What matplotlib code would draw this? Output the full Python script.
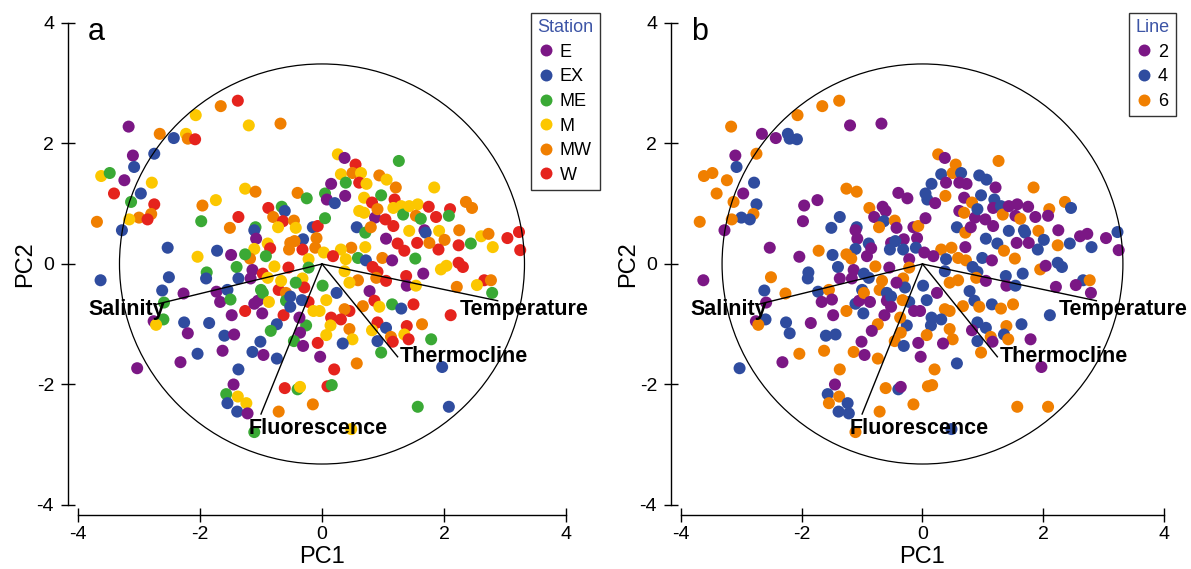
import matplotlib
matplotlib.use("Agg")
import numpy as np
import pandas as pd
import matplotlib.pyplot as plt
from matplotlib.lines import Line2D
from matplotlib.patches import Circle

###############################################################################
# Data (PC scores, station and line of every sample)

pc1 = [
    -3.17, -2.66, -2.43, -2.23, -2.20, -2.08, -2.07, -1.66, -1.38, -1.20,
    -0.68, -3.10, -3.08, -2.75, -3.62, -3.48, -3.24, -2.79, -3.41, -2.97,
    -3.13, -2.75, -2.80, -3.00, -2.86, -3.16, -3.69, -3.28, -2.53, -3.63,
    -2.51, -2.62, -2.59, -2.76, -2.60, -2.72, -3.03,
    -1.26, -1.09, -1.96, -1.74, -1.98, -1.37, -1.51, -0.40, -0.25, -0.88,
    -0.66, -0.61, -0.80, -0.64, -0.46, -0.72, -0.43, -1.09, -1.11, -1.08,
    -0.31, -0.32, -0.52, -0.45, -0.54, -0.89, -0.85, -0.15, -0.07, -0.09,
    -0.11, 0.05, 0.15, 0.08, 0.05, -0.22, 0.03, -1.11, -1.18, -1.26,
    -0.92, -0.78, -2.04, -1.72, -1.49, -1.40, -1.89, -1.90, -1.37, -1.14,
    -1.17, -0.97, -0.89, -0.55, -0.22, -2.27, -1.73, -1.67, -1.55, -1.50,
    -1.48, -1.26, -0.98, -1.11, -1.05, -1.00, -0.97, -0.87, -0.71, -0.59,
    -0.63, -0.59, -0.52, -0.52, -0.67, -0.32, -0.29, -0.22, -0.43, 0.01,
    -0.33, -0.14, -0.04, 0.07, 0.15, 0.14, -0.26, -0.37, -0.36, -0.46,
    -0.31, -0.07, 0.07, -0.03, -0.74, -0.84, -2.26, -2.20, -1.85, -1.60,
    -1.44, -1.63, -2.04, -2.32, -1.01, -1.14, -0.96, -0.74, -1.37, -1.45,
    -1.57, -1.55, -1.38, -1.24, -1.39, -1.22, -0.61, -0.40, -0.36, 0.09,
    0.16, -0.15, -0.71, 0.20,
    0.26, 0.37, 0.55, 1.26, 0.31, 0.50, 0.64, 0.61, 0.73, 0.94,
    1.06, 1.21, 0.97, 1.84, 0.39, 0.38, 0.21, 0.69, 0.82, 0.61,
    0.69, 0.87, 0.91, 1.04, 1.19, 1.17, 1.30, 1.33, 1.43, 1.57,
    1.75, 1.54, 1.62, 1.87, 2.10, 2.08, 2.36, 2.46, 0.57, 0.71,
    0.80, 1.17, 1.43, 1.68, 1.70, 1.92, 2.01, 2.25, 2.61, 2.73,
    2.44, 2.80, 2.24, 1.91, 1.76, 1.56, 1.05, 0.71, 0.48, 0.31,
    1.24, 1.35, 1.53, 0.18, 0.39, 0.59, 0.72, 0.99, 1.15, 0.83,
    0.91, 0.89, 1.66, 1.95, 2.04, 2.24, 2.31, 2.66, 2.77, 2.54,
    2.21, 2.79, 1.38, 1.39, 1.54, 1.05, 0.78, 0.59, 0.37, 0.45,
    0.86, 0.94, 0.67, 0.45, 1.15, 1.30, 1.50, 2.11, 0.24, 0.37,
    0.31, 0.45, 0.50, 0.34, 0.91, 1.05, 0.82, 0.91, 1.13, 1.16,
    1.39, 1.35, 1.64, 1.42, 1.79, 0.97, 0.57, 1.97, 1.57, 2.08,
    3.04, 3.23, 3.25, -1.11, 0.48,
]

pc2 = [
    2.28, 2.16, 2.09, 2.16, 2.08, 2.07, 2.47, 2.62, 2.71, 2.30,
    2.33, 1.80, 1.61, 1.83, 1.46, 1.51, 1.39, 1.35, 1.17, 1.17,
    1.03, 0.99, 0.83, 0.77, 0.74, 0.74, 0.70, 0.56, 0.27, -0.27,
    -0.22, -0.44, -0.64, -0.95, -0.92, -1.01, -1.73,
    1.25, 1.20, 0.97, 1.06, 0.71, 0.78, 0.60, 1.18, 1.09, 0.93,
    0.95, 0.88, 0.78, 0.71, 0.72, 0.61, 0.60, 0.61, 0.56, 0.42,
    0.41, 0.24, 0.35, 0.38, 0.24, 0.34, 0.26, 0.61, 0.63, 0.43,
    0.27, 1.17, 1.33, 1.07, 0.76, 0.08, 0.19, 0.25, 0.09, 0.16,
    0.13, -0.04, 0.12, 0.22, 0.15, -0.05, -0.14, -0.24, -0.24, -0.10,
    -0.24, -0.16, -0.23, -0.06, -0.06, -0.49, -0.46, -0.63, -0.43, -0.59,
    -0.85, -0.78, -0.82, -0.66, -0.61, -0.43, -0.48, -0.63, -0.43, -0.48,
    -0.85, -0.61, -0.54, -0.71, -0.28, -0.24, -0.39, -0.63, -0.31, -0.36,
    -0.60, -0.78, -0.78, -0.60, -0.89, -1.02, -1.02, -0.89, -1.14, -1.28,
    -1.36, -1.31, -1.18, -1.54, -1.00, -1.11, -0.97, -1.15, -0.98, -1.19,
    -1.17, -1.44, -1.49, -1.63, -1.29, -1.46, -1.51, -1.57, -1.75, -2.00,
    -2.16, -2.31, -2.20, -2.31, -2.45, -2.48, -2.06, -2.08, -2.04, -2.03,
    -2.01, -2.33, -2.45, -1.75,
    1.82, 1.76, 1.65, 1.71, 1.49, 1.51, 1.51, 1.35, 1.33, 1.47,
    1.40, 1.27, 1.14, 1.27, 1.35, 1.13, 1.01, 1.10, 1.02, 0.88,
    0.85, 0.77, 0.91, 0.74, 1.07, 0.93, 0.96, 0.82, 0.96, 0.99,
    0.95, 0.80, 0.75, 0.78, 0.91, 0.80, 1.03, 0.93, 0.61, 0.52,
    0.61, 0.63, 0.55, 0.56, 0.52, 0.55, 0.40, 0.56, 0.46, 0.50,
    0.34, 0.28, 0.31, 0.24, 0.35, 0.35, 0.42, 0.28, 0.27, 0.24,
    0.34, 0.22, 0.09, 0.13, 0.08, 0.10, 0.06, 0.10, 0.06, -0.05,
    -0.13, -0.23, -0.16, -0.09, -0.03, 0.02, -0.05, -0.27, -0.27, -0.35,
    -0.38, -0.48, -0.20, -0.36, -0.36, -0.28, -0.45, -0.27, -0.12, -0.31,
    -0.61, -0.71, -0.70, -0.78, -0.67, -0.74, -0.67, -0.85, -0.48, -0.75,
    -0.92, -1.08, -1.25, -1.32, -0.97, -1.06, -1.10, -1.28, -1.21, -1.29,
    -1.03, -1.17, -1.00, -1.25, -1.25, -1.47, -1.65, -1.71, -2.37, -2.37,
    0.43, 0.53, 0.23, -2.79, -2.74,
]

station = [
    "E", "MW", "EX", "M", "MW", "W", "M", "MW", "W", "M",
    "MW", "E", "EX", "EX", "M", "ME", "E", "M", "W", "EX",
    "ME", "W", "MW", "MW", "W", "M", "MW", "EX", "EX", "EX",
    "EX", "EX", "ME", "E", "ME", "M", "E",
    "M", "MW", "MW", "M", "ME", "W", "MW", "MW", "ME", "W",
    "ME", "EX", "MW", "W", "MW", "M", "M", "ME", "EX", "E",
    "EX", "W", "MW", "MW", "MW", "M", "W", "EX", "W", "MW",
    "MW", "ME", "E", "E", "ME", "M", "M", "M", "MW", "ME",
    "ME", "M", "M", "EX", "E", "ME", "ME", "EX", "EX", "E",
    "E", "W", "M", "W", "ME", "E", "E", "E", "EX", "ME",
    "E", "W", "E", "E", "E", "ME", "ME", "M", "W", "MW",
    "W", "ME", "EX", "EX", "M", "M", "W", "W", "ME", "ME",
    "EX", "M", "M", "M", "W", "M", "ME", "E", "E", "ME",
    "E", "W", "M", "E", "EX", "ME", "EX", "E", "EX", "EX",
    "E", "E", "EX", "E", "EX", "EX", "E", "EX", "EX", "E",
    "ME", "EX", "M", "M", "EX", "E", "W", "ME", "M", "W",
    "ME", "MW", "MW", "W",
    "M", "E", "W", "ME", "M", "MW", "M", "W", "M", "MW",
    "M", "MW", "ME", "M", "ME", "E", "EX", "M", "W", "M",
    "M", "E", "MW", "W", "W", "M", "M", "ME", "M", "M",
    "W", "MW", "ME", "W", "W", "ME", "MW", "MW", "EX", "ME",
    "MW", "W", "M", "E", "EX", "M", "MW", "MW", "M", "MW",
    "ME", "M", "W", "W", "MW", "W", "E", "M", "MW", "M",
    "W", "W", "ME", "W", "M", "ME", "EX", "MW", "E", "W",
    "W", "MW", "E", "M", "M", "W", "W", "W", "MW", "M",
    "MW", "ME", "W", "E", "M", "W", "E", "MW", "M", "M",
    "W", "M", "MW", "W", "ME", "EX", "W", "W", "EX", "MW",
    "W", "MW", "M", "EX", "W", "EX", "M", "EX", "MW", "W",
    "W", "M", "MW", "W", "ME", "ME", "MW", "EX", "ME", "EX",
    "W", "W", "W", "ME", "M",
]

line = [
    6, 2, 2, 4, 4, 4, 6, 6, 6, 2,
    2, 2, 4, 6, 6, 6, 6, 4, 6, 2,
    6, 4, 6, 4, 4, 6, 6, 2, 2, 2,
    6, 4, 2, 2, 4, 6, 4,
    6, 6, 2, 2, 2, 4, 4, 2, 2, 6,
    2, 2, 2, 4, 6, 6, 2, 4, 2, 2,
    2, 4, 2, 4, 4, 4, 2, 2, 6, 2,
    4, 4, 4, 4, 2, 2, 2, 4, 6, 6,
    2, 6, 2, 6, 4, 4, 4, 4, 2, 2,
    2, 4, 4, 2, 6, 6, 4, 2, 6, 2,
    2, 6, 4, 4, 2, 4, 6, 2, 6, 4,
    2, 2, 4, 2, 6, 6, 4, 4, 2, 4,
    6, 2, 2, 4, 4, 4, 4, 6, 6, 6,
    4, 2, 6, 2, 6, 2, 4, 4, 2, 4,
    4, 6, 6, 2, 2, 6, 2, 6, 6, 2,
    4, 6, 6, 4, 4, 4, 6, 4, 2, 6,
    6, 6, 6, 6,
    6, 2, 6, 6, 4, 6, 4, 2, 2, 4,
    4, 2, 4, 6, 2, 6, 2, 2, 6, 2,
    6, 2, 4, 2, 4, 2, 4, 6, 2, 2,
    2, 2, 6, 2, 6, 2, 6, 4, 4, 6,
    2, 2, 4, 4, 4, 6, 4, 2, 2, 2,
    4, 4, 6, 4, 2, 2, 4, 2, 6, 6,
    4, 6, 6, 2, 4, 6, 6, 4, 2, 4,
    4, 6, 4, 6, 2, 4, 4, 4, 6, 2,
    2, 2, 4, 2, 4, 2, 4, 6, 4, 6,
    4, 6, 6, 6, 4, 6, 6, 4, 2, 6,
    4, 6, 6, 2, 4, 4, 2, 4, 6, 2,
    6, 4, 4, 6, 2, 6, 4, 2, 6, 6,
    2, 4, 2, 6, 4,
]

# Variable loadings (arrow tips) and the circle of equilibrium
loading_names = ["Salinity", "Temperature", "Thermocline", "Fluorescence"]
load_pc1 = [-2.72, 2.88, 1.24, -1.00]
load_pc2 = [-0.67, -0.61, -1.54, -2.49]
circle_radius = 3.32

station_order = ["E", "EX", "ME", "M", "MW", "W"]
line_order = [2, 4, 6]

###############################################################################
# Styling

plt.rcParams['font.family'] = ['Liberation Sans', 'DejaVu Sans']
plt.rcParams['axes.unicode_minus'] = False

purple, blue, green = '#7b1785', '#2f4c9f', '#3aa935'
yellow, orange, red = '#fcc700', '#f07f00', '#e5231d'
station_colors = dict(zip(station_order, [purple, blue, green, yellow, orange, red]))
line_colors = dict(zip(line_order, [purple, blue, orange]))

df = pd.DataFrame({"PC1": pc1, "PC2": pc2, "Station": station, "Line": line})

# label anchor (x, y, ha) for every loading name
label_layout = {
    "Salinity": (-2.57, -0.84, "right"),
    "Temperature": (2.26, -0.85, "left"),
    "Thermocline": (1.28, -1.63, "left"),
    "Fluorescence": (-1.21, -2.82, "left"),
}

fig = plt.figure(figsize=(11.91, 5.69), dpi=100)
ax_a = fig.add_axes([0.0655, 0.1125, 0.4097, 0.8471])
ax_b = fig.add_axes([0.5718, 0.1125, 0.4055, 0.8471])


def draw_panel(ax, colors, letter, legend_title, order, cmap):
    ax.scatter(df["PC1"], df["PC2"], c=colors, s=75, linewidths=0, zorder=2)
    ax.add_patch(Circle((0, 0), circle_radius, fill=False, lw=0.9,
                        ec='black', zorder=3))
    for name, lx, ly in zip(loading_names, load_pc1, load_pc2):
        ax.plot([0, lx], [0, ly], color='black', lw=1.0, zorder=3)
        tx, ty, ha = label_layout[name]
        ax.text(tx, ty, name, fontsize=15.5, fontweight='bold', ha=ha,
                va='baseline', zorder=4)

    ax.set_xlim(-4, 4)
    ax.set_ylim(-4, 4)
    ax.set_xticks([-4, -2, 0, 2, 4])
    ax.set_yticks([-4, -2, 0, 2, 4])
    for side in ['top', 'right']:
        ax.spines[side].set_visible(False)
    for side in ['left', 'bottom']:
        ax.spines[side].set_position(('outward', 7))
        ax.spines[side].set_linewidth(1.0)
    ax.tick_params(axis='both', direction='inout', length=9.5, width=1.0,
                   labelsize=14)
    ax.tick_params(axis='x', pad=3.5)
    ax.tick_params(axis='y', pad=5.5)
    ax.set_xlabel('PC1', fontsize=17, labelpad=2)
    ax.set_ylabel('PC2', fontsize=17, labelpad=0)

    ax.text(0.02, 0.965, letter, transform=ax.transAxes, fontsize=22,
            va='baseline')

    handles = [Line2D([], [], ls='none', marker='o', ms=8.6, mew=0,
                      color=cmap[k], label=str(k)) for k in order]
    leg = ax.legend(handles=handles, title=legend_title, loc='upper left',
                    bbox_to_anchor=(0.928, 1.021), borderaxespad=0,
                    fontsize=13, title_fontsize=13, frameon=True,
                    fancybox=False, framealpha=1, edgecolor='#333333',
                    borderpad=0.35, handlelength=0.95, handletextpad=0.3,
                    labelspacing=0.42, alignment='left')
    leg.get_frame().set_linewidth(1.0)
    leg.get_title().set_color('#3d55a6')


draw_panel(ax_a, df["Station"].map(station_colors), 'a', 'Station',
           station_order, station_colors)
draw_panel(ax_b, df["Line"].map(line_colors), 'b', 'Line',
           line_order, line_colors)

fig.savefig('out.png', dpi=100)
